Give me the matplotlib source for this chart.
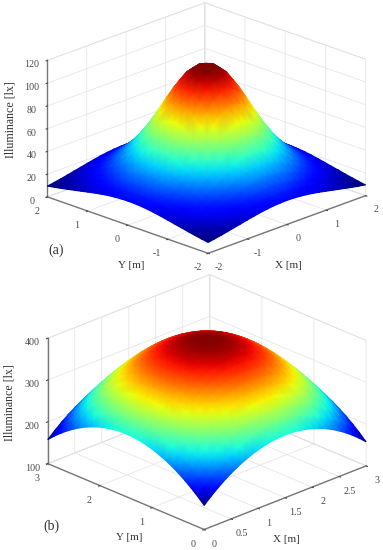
import numpy as np
import matplotlib
matplotlib.use('Agg')
import matplotlib.pyplot as plt
from mpl_toolkits.mplot3d import proj3d

plt.rcParams['font.family'] = ['Liberation Serif', 'DejaVu Serif']
plt.rcParams['axes.unicode_minus'] = False

# quadrant of panel (a), centre at top left, corner at bottom right [lx]
lux_a = [
    [115.5, 114.5, 109.0, 100.2, 88.6, 76.0, 64.0, 53.1, 43.9, 36.1, 30.1, 25.1, 21.1],
    [114.5, 112.7, 107.2, 98.3, 87.1, 74.5, 62.8, 52.4, 43.4, 35.7, 29.8, 24.9, 20.9],
    [109.0, 107.2, 101.8, 93.3, 82.8, 71.2, 60.2, 50.5, 41.5, 34.7, 29.0, 24.3, 20.5],
    [100.2, 98.3, 93.3, 85.6, 76.0, 65.8, 55.9, 47.0, 39.3, 33.0, 27.8, 23.4, 19.8],
    [88.6, 87.1, 82.8, 76.0, 67.7, 59.4, 51.1, 43.4, 36.5, 30.9, 26.2, 22.2, 18.9],
    [76.0, 74.5, 71.2, 65.8, 59.4, 52.4, 45.4, 38.8, 33.3, 28.5, 24.3, 20.8, 17.8],
    [64.0, 62.8, 60.2, 55.9, 51.1, 45.4, 39.7, 34.7, 30.1, 26.0, 22.4, 19.2, 16.6],
    [53.1, 52.4, 50.5, 47.0, 43.4, 38.8, 34.7, 30.6, 26.8, 23.4, 20.3, 17.7, 15.3],
    [43.9, 43.4, 41.5, 39.3, 36.5, 33.3, 30.1, 26.8, 23.8, 20.9, 18.4, 16.1, 14.1],
    [36.1, 35.7, 34.7, 33.0, 30.9, 28.5, 26.0, 23.4, 20.9, 18.6, 16.5, 14.5, 12.8],
    [30.1, 29.8, 29.0, 27.8, 26.2, 24.3, 22.4, 20.3, 18.4, 16.5, 14.7, 13.1, 11.6],
    [25.1, 24.9, 24.3, 23.4, 22.2, 20.8, 19.2, 17.7, 16.1, 14.5, 13.1, 11.8, 10.5],
    [21.1, 20.9, 20.5, 19.8, 18.9, 17.8, 16.6, 15.3, 14.1, 12.8, 11.6, 10.5, 9.5],
]

# same for panel (b)
lux_b = [
    [400.0, 399.0, 395.8, 390.6, 383.3, 373.9, 362.5, 348.9, 333.3, 315.6, 295.8, 273.9, 249.9],
    [399.0, 398.0, 394.8, 389.6, 382.4, 373.0, 361.6, 348.1, 332.5, 314.8, 295.1, 273.2, 249.3],
    [395.8, 394.8, 391.7, 386.5, 379.3, 370.0, 358.7, 345.3, 329.8, 312.3, 292.7, 271.0, 247.3],
    [390.6, 389.6, 386.5, 381.4, 374.3, 365.2, 354.0, 340.8, 325.5, 308.2, 288.9, 267.5, 244.1],
    [383.3, 382.3, 379.3, 374.3, 367.3, 358.4, 347.4, 334.4, 319.4, 302.5, 283.5, 262.6, 239.6],
    [373.9, 372.9, 370.0, 365.1, 358.3, 349.6, 338.9, 326.2, 311.7, 295.1, 276.6, 256.2, 233.8],
    [362.5, 361.6, 358.7, 354.0, 347.4, 338.9, 328.6, 316.3, 302.2, 286.2, 268.3, 248.5, 226.9],
    [348.9, 348.0, 345.3, 340.7, 334.4, 326.3, 316.3, 304.5, 290.9, 275.5, 258.3, 239.3, 218.5],
    [333.3, 332.4, 329.8, 325.5, 319.5, 311.7, 302.2, 291.0, 278.0, 263.3, 246.9, 228.7, 208.9],
    [315.6, 314.8, 312.3, 308.2, 302.5, 295.2, 286.2, 275.6, 263.3, 249.4, 233.9, 216.8, 198.0],
    [295.8, 295.0, 292.7, 288.9, 283.6, 276.7, 268.3, 258.4, 246.9, 233.9, 219.4, 203.4, 185.8],
    [273.9, 273.2, 271.1, 267.5, 262.6, 256.3, 248.5, 239.3, 228.7, 216.8, 203.4, 188.5, 172.3],
    [249.9, 249.3, 247.3, 244.1, 239.6, 233.9, 226.8, 218.5, 208.9, 197.9, 185.8, 172.3, 157.5],
]

x_ticks_a = [-2, -1, 0, 1, 2]
y_ticks_a = [-2, -1, 0, 1, 2]
z_ticks_a = [0, 20, 40, 60, 80, 100, 120]
x_ticks_b = [0, 0.5, 1, 1.5, 2, 2.5, 3]
y_ticks_b = [0, 1, 2, 3]
z_ticks_b = [100, 200, 300, 400]

W, H = 383, 550
GRAY = '#4a4a4a'


def whole(q):
    q = np.array(q)
    top = np.hstack([q[::-1, ::-1][:, :-1], q[::-1]])
    bot = np.hstack([q[:, ::-1][:, :-1], q])
    return np.vstack([top[:-1], bot])


def panel(rect, z, lim, zlim, xt, yt, zt, elev, azim, zasp, clim, zoom, off):
    # rect in pixels: left, top, size
    l, t, s = rect
    pos = [l / W, 1 - (t + s) / H, s / W, s / H]
    ax = fig.add_axes(pos, projection='3d', proj_type='ortho')
    ax.set_box_aspect((1, 1, zasp), zoom=zoom)
    ax.view_init(elev=elev, azim=azim)
    ax.set_xlim(lim)
    ax.set_ylim(lim)
    ax.set_zlim(zlim)
    ax.set_xticks(xt)
    ax.set_yticks(yt)
    ax.set_zticks(zt)
    for a in (ax.xaxis, ax.yaxis, ax.zaxis):
        a.set_pane_color((1, 1, 1, 1))
        a.pane.set_edgecolor('#dddddd')
        a.pane.set_linewidth(0.6)
        a.line.set_color('#777777')
        a.line.set_linewidth(1.0)
        a._axinfo['grid'].update(color='#e2e2e2', linewidth=0.5)
        a._axinfo['tick'].update(inward_factor=0.1, outward_factor=0.0)
    ax.tick_params(labelsize=7.2, colors=GRAY)
    ax.tick_params(axis='x', labelbottom=False)
    ax.tick_params(axis='y', labelleft=False)
    ax.tick_params(axis='z', pad=-2)
    ax.zaxis.set_ticks_position('upper')
    ax.patch.set_alpha(0)

    # smooth shaded surface on a clear 2d axes over the box, back corner first
    M = ax.get_proj()
    z = whole(z)
    xs = np.linspace(lim[1], lim[0], z.shape[0])
    X, Y = np.meshgrid(xs, xs)
    px, py, _ = proj3d.proj_transform(X.ravel(), Y.ravel(), z.ravel(), M)
    over = fig.add_axes(pos)
    over.axis('off')
    over.pcolormesh(px.reshape(X.shape), py.reshape(X.shape), z, cmap='jet', vmin=clim[0], vmax=clim[1],
                    shading='gouraud')
    over.set_xlim(ax.viewLim.intervalx)
    over.set_ylim(ax.viewLim.intervaly)

    # floor tick labels, placed just off the box edges
    zl = zlim[0] - off[1]
    edge = lim[0] - off[0]
    for v, (a, b) in [(v, (v, edge)) for v in xt] + [(v, (edge, v)) for v in yt]:
        tx, ty, _ = proj3d.proj_transform(a, b, zl, M)
        over.text(tx, ty, f'{v:g}', fontsize=7.2, color=GRAY, ha='center', va='center')
    return ax


fig = plt.figure(figsize=(W / 100, H / 100), dpi=100)

panel((37, -32.5, 330), lux_a, (-2, 2), (0, 120), x_ticks_a, y_ticks_a, z_ticks_a, 21, -135.6, 0.65, (9.5, 113), 1.03, (0.27, 9.2))
panel((37.5, 241.5, 330), lux_b, (0, 3), (100, 400), x_ticks_b, y_ticks_b, z_ticks_b, 24, -134, 0.61, (157, 400), 1.02, (0.2, 25))


def label(px, py, s, size, rot=0):
    fig.text(px / W, 1 - py / H, s, fontsize=size, color='#333333', rotation=rot, ha='center', va='center')


label(11, 119.5, 'Illuminance [lx]', 8.6, 90)
label(131, 265, 'Y [m]', 8)
label(288, 265, 'X [m]', 8)
label(56, 250, '(a)', 10)
label(10, 402.5, 'Illuminance [lx]', 8.6, 90)
label(129, 538, 'Y [m]', 8)
label(286, 539, 'X [m]', 8)
label(51, 526, '(b)', 10)

fig.savefig('out.png', dpi=100)
